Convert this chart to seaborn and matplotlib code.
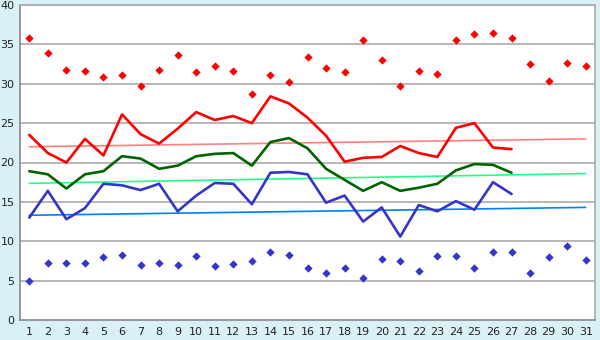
import numpy as np
import pandas as pd
import seaborn as sns
import matplotlib
matplotlib.use('Agg')
import matplotlib.pyplot as plt

days = list(range(1, 32))
line_days = list(range(1, 28))

t_max = [35.8, 33.9, 31.7, 31.6, 30.8, 31.1, 29.7, 31.8, 33.6, 31.5,
         32.2, 31.6, 28.7, 31.1, 30.2, 33.4, 32.0, 31.5, 35.5, 33.0,
         29.7, 31.6, 31.2, 35.5, 36.3, 36.4, 35.8, 32.5, 30.4, 32.6, 32.3]
t_min = [5.0, 7.2, 7.2, 7.2, 8.0, 8.2, 7.0, 7.2, 7.0, 8.1,
         6.8, 7.1, 7.5, 8.6, 8.3, 6.6, 6.0, 6.6, 5.3, 7.7,
         7.5, 6.2, 8.1, 8.1, 6.6, 8.6, 8.6, 6.0, 8.0, 9.4, 7.6]

red = [23.5, 21.2, 20.0, 23.0, 20.9, 26.1, 23.6, 22.4, 24.3, 26.4,
       25.4, 25.9, 25.0, 28.4, 27.5, 25.7, 23.4, 20.1, 20.6, 20.7,
       22.1, 21.2, 20.7, 24.4, 25.0, 21.9, 21.7]
green = [18.9, 18.5, 16.7, 18.5, 18.9, 20.8, 20.5, 19.2, 19.6, 20.8,
         21.1, 21.2, 19.6, 22.6, 23.1, 21.8, 19.2, 17.8, 16.4, 17.5,
         16.4, 16.8, 17.3, 19.0, 19.8, 19.7, 18.7]
blue = [13.0, 16.4, 12.8, 14.2, 17.3, 17.1, 16.5, 17.3, 13.8, 15.8,
        17.4, 17.3, 14.7, 18.7, 18.8, 18.5, 14.9, 15.8, 12.5, 14.3,
        10.6, 14.6, 13.8, 15.1, 14.0, 17.5, 16.0]

trend_days = [1, 31]
red_trend = [22.0, 23.0]
green_trend = [17.35, 18.6]
blue_trend = [13.3, 14.3]

bg = '#DAF0F7'
grid_c = '#AAAAAA'

sns.set_style('white')
plt.rcParams['font.family'] = ['DejaVu Sans']

fig = plt.figure(figsize=(6, 3.4), dpi=100)
fig.patch.set_facecolor(bg)
ax = fig.add_axes([20 / 600, 20 / 340, 575 / 600, 315 / 340])
ax.set_facecolor('white')

for v in range(5, 41, 5):
    ax.axhline(v, color=grid_c, lw=1.2, zorder=0)

# trend lines
sns.lineplot(x=trend_days, y=red_trend, color='#FF8080', lw=1.2, ax=ax)
sns.lineplot(x=trend_days, y=green_trend, color='#22FF88', lw=1.2, ax=ax)
sns.lineplot(x=trend_days, y=blue_trend, color='#0080FF', lw=1.2, ax=ax)

# daily lines
sns.lineplot(x=line_days, y=red, color='#FF0000', lw=1.9, ax=ax)
sns.lineplot(x=line_days, y=green, color='#006400', lw=1.9, ax=ax)
sns.lineplot(x=line_days, y=blue, color='#3535CC', lw=1.9, ax=ax)

# extremes
sns.scatterplot(x=days, y=t_max, color='#FF0000', marker='D', s=18,
                linewidth=0, ax=ax, zorder=5)
sns.scatterplot(x=days, y=t_min, color='#3535CC', marker='D', s=18,
                linewidth=0, ax=ax, zorder=5)

ax.set_xlim(0.5, 31.5)
ax.set_ylim(0, 40)
ax.set_xticks(days)
ax.set_yticks(range(0, 41, 5))
ax.tick_params(axis='both', labelsize=8, colors='#222222', length=3,
               width=1, direction='out')
ax.tick_params(axis='y', pad=1)
ax.tick_params(axis='x', pad=2)
ax.tick_params(axis='both', color='#555555')
for s in ax.spines.values():
    s.set_color(grid_c)
    s.set_linewidth(1.2)
ax.spines['left'].set_color('#888888')
ax.spines['bottom'].set_color('#888888')
ax.set_xlabel('')
ax.set_ylabel('')

fig.savefig('out.png', dpi=100, facecolor=bg)
